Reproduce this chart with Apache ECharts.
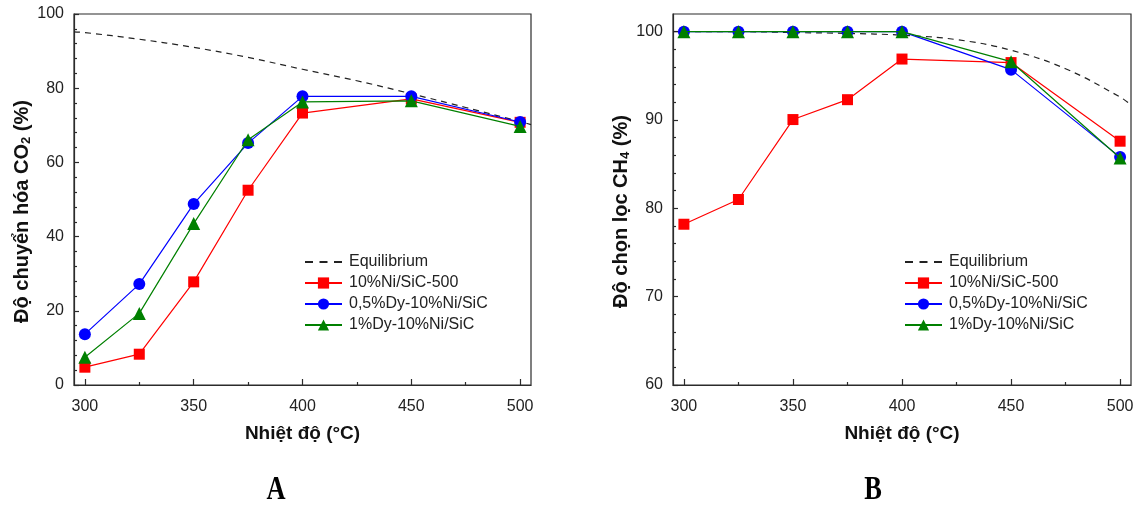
<!DOCTYPE html>
<html>
<head>
<meta charset="utf-8">
<script src="https://cdn.jsdelivr.net/npm/echarts@6/dist/echarts.min.js"></script>
<style>
html,body{margin:0;padding:0;background:#fff;}
#c{width:1141px;height:506px;}
</style>
</head>
<body>
<div id="c"></div>
<script>
// ---- data ----
const temps = [300, 325, 350, 375, 400, 450, 500];
const eqTemps = [295, 300, 325, 350, 375, 400, 425, 450, 475, 500, 505];
const seriesNames = ['Equilibrium', '10%Ni/SiC-500', '0,5%Dy-10%Ni/SiC', '1%Dy-10%Ni/SiC'];

// Panel A: CO2 conversion (%)
const eqConvA = [95.2, 95.0, 93.2, 91.0, 88.3, 85.1, 82.0, 78.5, 74.8, 71.0, 70.2];
const niConvA = [4.8, 8.3, 27.8, 52.5, 73.3, 77.1, 70.8];
const dy05ConvA = [13.7, 27.2, 48.8, 65.2, 77.8, 77.8, 70.9];
const dy1ConvA = [7.5, 19.3, 43.5, 66.1, 76.3, 76.6, 69.7];

// Panel B: CH4 selectivity (%)
const eqSelB = [100, 100, 100, 99.9, 99.8, 99.6, 99.1, 97.9, 95.8, 92.6, 91.7];
const niSelB = [78.2, 81.0, 90.05, 92.3, 96.9, 96.5, 87.6];
const dy05SelB = [100, 100, 100, 100, 100, 95.7, 85.8];
const dy1SelB = [100, 100, 100, 100, 100, 96.6, 85.7];

// ticks
const xMajor = [300, 350, 400, 450, 500];
const xMinor = [325, 375, 425, 475];
const yMajorA = [0, 20, 40, 60, 80, 100];
const yMinorA = [4, 8, 12, 16, 24, 28, 32, 36, 44, 48, 52, 56, 64, 68, 72, 76, 84, 88, 92, 96];
const yMajorB = [60, 70, 80, 90, 100];
const yMinorB = [62, 64, 66, 68, 72, 74, 76, 78, 82, 84, 86, 88, 92, 94, 96, 98];

const xName = 'Nhiệt độ (°C)';
const yNameA = ['Độ chuyển hóa CO', '2', ' (%)'];
const yNameB = ['Độ chọn lọc CH', '4', ' (%)'];
const panelLabels = ['A', 'B'];

// ---- styles ----
const FONT = 'Liberation Sans, Arial, sans-serif';
const AX = '#2b2b2b';
const colors = {red: '#ff0000', blue: '#0000ff', green: '#008000'};

function pairs(xs, ys) { return xs.map((x, i) => [x, ys[i]]); }

const grids = [
  {left: 74, right: 610, top: 14, bottom: 121},
  {left: 673, right: 10, top: 14, bottom: 121}
];

const xAxes = [], yAxes = [];
const yCfg = [
  {min: 0, max: 100, major: yMajorA, minor: yMinorA, name: yNameA},
  {min: 60, max: 102, major: yMajorB, minor: yMinorB, name: yNameB}
];
grids.forEach((g, gi) => {
  xAxes.push({
    type: 'value', gridIndex: gi, min: 295, max: 505, position: 'bottom',
    name: xName, nameLocation: 'middle', nameGap: 39,
    nameTextStyle: {fontFamily: FONT, fontSize: 19, fontWeight: 'bold', color: '#111'},
    axisLine: {show: true, onZero: false, lineStyle: {color: AX, width: 1.2}},
    axisTick: {show: true, inside: true, length: 6, customValues: xMajor, lineStyle: {color: AX, width: 1.2}},
    axisLabel: {show: true, margin: 14, customValues: xMajor, fontFamily: FONT, fontSize: 16, color: '#222'},
    splitLine: {show: false}
  });
  xAxes.push({
    type: 'value', gridIndex: gi, min: 295, max: 505, position: 'bottom', offset: 0,
    axisLine: {show: false, onZero: false},
    axisTick: {show: true, inside: true, length: 3, customValues: xMinor, lineStyle: {color: AX, width: 1.2}},
    axisLabel: {show: false},
    splitLine: {show: false}
  });
  const c = yCfg[gi];
  yAxes.push({
    type: 'value', gridIndex: gi, min: c.min, max: c.max, position: 'left',
    name: '{a|' + c.name[0] + '}{s|' + c.name[1] + '}{a|' + c.name[2] + '}',
    nameLocation: 'middle', nameRotate: 90, nameGap: 40,
    nameTextStyle: {
      padding: [0, 24, 0, 0],
      rich: {
        a: {fontFamily: FONT, fontSize: 20, fontWeight: 'bold', color: '#111'},
        s: {fontFamily: FONT, fontSize: 13, fontWeight: 'bold', color: '#111', padding: [9, 0, 0, 0]}
      }
    },
    axisLine: {show: true, onZero: false, lineStyle: {color: AX, width: 1.2}},
    axisTick: {show: true, inside: true, length: 5, customValues: c.major, lineStyle: {color: AX, width: 1.2}},
    axisLabel: {show: true, margin: 10, customValues: c.major, fontFamily: FONT, fontSize: 16, color: '#222'},
    splitLine: {show: false}
  });
  yAxes.push({
    type: 'value', gridIndex: gi, min: c.min, max: c.max, position: 'left', offset: 0,
    axisLine: {show: false, onZero: false},
    axisTick: {show: true, inside: true, length: 3, customValues: c.minor, lineStyle: {color: AX, width: 1.2}},
    axisLabel: {show: false},
    splitLine: {show: false}
  });
});

function eqSeries(gi, data) {
  return {
    name: seriesNames[0], type: 'line', xAxisIndex: gi * 2, yAxisIndex: gi * 2,
    data: data, smooth: 0.4, symbol: 'none', silent: true, z: 1,
    lineStyle: {color: '#222', width: 1.2, type: [6, 5]},
    itemStyle: {color: '#222'}
  };
}
function dataSeries(gi, idx, data, color, symbol, size, z) {
  return {
    name: seriesNames[idx], type: 'line', xAxisIndex: gi * 2, yAxisIndex: gi * 2,
    data: data, symbol: symbol, symbolSize: size, showAllSymbol: true, z: z,
    lineStyle: {color: color, width: 1.2}, itemStyle: {color: color, borderWidth: 0},
    emphasis: {disabled: true}
  };
}

const series = [
  eqSeries(0, pairs(eqTemps, eqConvA)),
  dataSeries(0, 1, pairs(temps, niConvA), colors.red, 'rect', 11, 2),
  dataSeries(0, 2, pairs(temps, dy05ConvA), colors.blue, 'circle', 12, 3),
  dataSeries(0, 3, pairs(temps, dy1ConvA), colors.green, 'triangle', 13, 4),
  eqSeries(1, pairs(eqTemps, eqSelB)),
  dataSeries(1, 1, pairs(temps, niSelB), colors.red, 'rect', 11, 2),
  dataSeries(1, 2, pairs(temps, dy05SelB), colors.blue, 'circle', 12, 3),
  dataSeries(1, 3, pairs(temps, dy1SelB), colors.green, 'triangle', 13, 4)
];

function legend(left) {
  return {
    left: left, top: 249, orient: 'vertical', itemWidth: 37, itemHeight: 14, itemGap: 5,
    selectedMode: false,
    data: [
      {name: seriesNames[0], itemStyle: {opacity: 0}, lineStyle: {type: [8, 6.5]}},
      seriesNames[1], seriesNames[2], seriesNames[3]
    ],
    textStyle: {fontFamily: FONT, fontSize: 16, color: '#222', padding: [0, 0, 0, 2]}
  };
}

const option = {
  animation: false,
  backgroundColor: '#ffffff',
  grid: grids.map(g => Object.assign({show: true, borderColor: AX, borderWidth: 1.2, backgroundColor: 'transparent'}, g)),
  xAxis: xAxes,
  yAxis: yAxes,
  legend: [legend(299), legend(899)],
  series: series,
  graphic: [
    {type: 'text', x: 276, y: 490, scaleX: 0.8, style: {text: panelLabels[0], font: 'bold 33px "Liberation Serif", "Times New Roman", serif', fill: '#000', textAlign: 'center', textVerticalAlign: 'middle'}},
    {type: 'text', x: 873, y: 490, scaleX: 0.8, style: {text: panelLabels[1], font: 'bold 33px "Liberation Serif", "Times New Roman", serif', fill: '#000', textAlign: 'center', textVerticalAlign: 'middle'}}
  ]
};

const chart = echarts.init(document.getElementById('c'), null, {renderer: 'canvas'});
chart.setOption(option);
</script>
</body>
</html>
